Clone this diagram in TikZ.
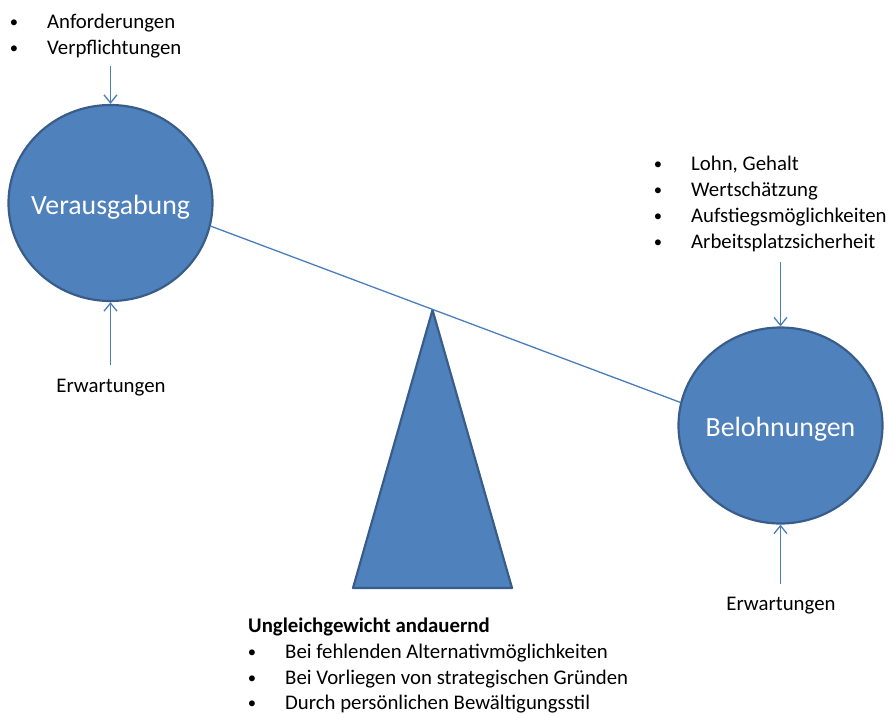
\documentclass[tikz,border=0pt]{standalone}
\usepackage{fontspec}
\setmainfont{Carlito}
\usetikzlibrary{arrows.meta}
\usetikzlibrary{shapes.geometric}

\definecolor{ballfill}{HTML}{4F81BD}
\definecolor{balldraw}{HTML}{385D8A}
\definecolor{edgeblue}{HTML}{4A7EBB}

\begin{document}
\begin{tikzpicture}[x=1pt,y=-1pt]
    \tikzset{ball/.style = {shape=ellipse,draw=balldraw,fill=ballfill,line width=2.2pt,
        minimum width=204pt,minimum height=196pt,inner sep=0pt,text=white,
        font=\fontsize{27.8}{32}\selectfont}}
    \tikzset{item/.style = {anchor=base west,inner sep=0pt,font=\fontsize{20.8}{26}\selectfont,
        execute at begin node={\llap{\raisebox{1pt}{\scalebox{0.8}{\textbullet}}\hspace{29pt}}}}}
    \tikzset{label2/.style = {anchor=base,inner sep=0pt,font=\fontsize{20.8}{26}\selectfont}}
    \tikzset{edge/.style = {draw=edgeblue,line width=1.3pt,-{Straight Barb[length=8pt,width=13pt]}}}

    \useasboundingbox (0,0) rectangle (895,713);

    % circles
    \node[ball] (verb) at (110.5,203) {\makebox[0pt]{\raisebox{-11pt}[0pt][0pt]{Verausgabung}}};
    \node[ball] (bel) at (780.5,425.5) {\makebox[0pt]{\raisebox{-11pt}[0pt][0pt]{Belohnungen}}};

    % balance
    \coordinate (tip) at (432.5,310);
    \draw[draw=balldraw,fill=ballfill,line width=2.2pt,line join=round] (353,588) -- (tip) -- (512,588) -- cycle;
    \draw[edgeblue,line width=1.3pt] (verb.-13) -- (bel.167);

    % lists
    \node[item] (a1) at (47,28) {Anforderungen};
    \node[item] (a2) at (47,54) {Verpflichtungen};

    \node[item] (b1) at (691,170) {Lohn, Gehalt};
    \node[item] (b2) at (691,196) {Wertschätzung};
    \node[item] (b3) at (691,222) {Aufstiegsmöglichkeiten};
    \node[item] (b4) at (691,248) {Arbeitsplatzsicherheit};

    \node[label2,anchor=base west] (u0) at (248,632) {\textbf{Ungleichgewicht andauernd}};
    \node[item] (u1) at (285,658) {Bei fehlenden Alternativmöglichkeiten};
    \node[item] (u2) at (285,684) {Bei Vorliegen von strategischen Gründen};
    \node[item] (u3) at (285,709) {Durch persönlichen Bewältigungsstil};

    \node[label2] (e1) at (111,392) {Erwartungen};
    \node[label2] (e2) at (781,610) {Erwartungen};

    % arrows
    \coordinate (s1) at (110.5,66);
    \coordinate (s2) at (110.5,365);
    \coordinate (s3) at (780.5,262);
    \coordinate (s4) at (780.5,584);
    \draw[edge] (s1) -- (verb.north);
    \draw[edge] (s2) -- (verb.south);
    \draw[edge] (s3) -- (bel.north);
    \draw[edge] (s4) -- (bel.south);
\end{tikzpicture}
\end{document}
